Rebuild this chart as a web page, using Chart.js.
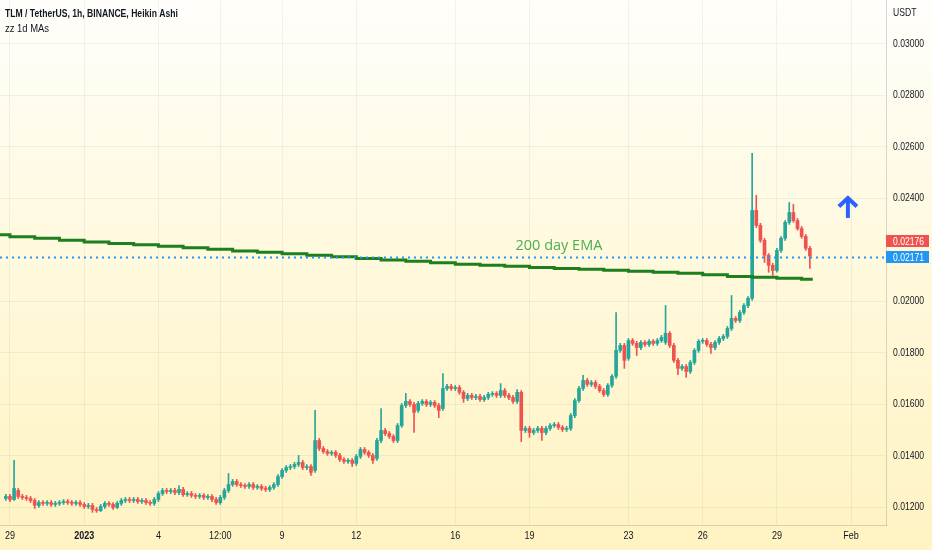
<!DOCTYPE html>
<html>
<head>
<meta charset="utf-8">
<title>TLM / TetherUS, 1h, BINANCE, Heikin Ashi</title>
<script src="https://cdn.jsdelivr.net/npm/chart.js@4.4.1/dist/chart.umd.min.js"></script>
<style>
  html, body { margin: 0; padding: 0; background: #fffdf3; }
  #wrap { position: relative; width: 932px; height: 550px; }
</style>
</head>
<body>
<div id="wrap"><canvas id="myChart"></canvas></div>
<script>
// days are counted from Jan 1 2023 00:00, candles are 4h Heikin Ashi
const firstCandle = -3.1667;
const candleStep = 1 / 6;

const opens = [
  0.01235, 0.01243, 0.01231, 0.01266, 0.01243, 0.01239, 0.01235, 0.01227, 0.01208, 0.01219,
  0.01216, 0.01219, 0.01212, 0.01216, 0.01219, 0.01223, 0.01219, 0.01216, 0.01219, 0.01212,
  0.01204, 0.01208, 0.01192, 0.01188, 0.01204, 0.01216, 0.01212, 0.01200, 0.01216, 0.01227,
  0.01231, 0.01227, 0.01231, 0.01223, 0.01227, 0.01219, 0.01216, 0.01231, 0.01254, 0.01266,
  0.01262, 0.01266, 0.01258, 0.01270, 0.01250, 0.01254, 0.01247, 0.01243, 0.01247, 0.01239,
  0.01243, 0.01231, 0.01219, 0.01239, 0.01266, 0.01289, 0.01301, 0.01289, 0.01285, 0.01282,
  0.01289, 0.01278, 0.01282, 0.01274, 0.01270, 0.01278, 0.01289, 0.01320, 0.01344, 0.01355,
  0.01359, 0.01367, 0.01375, 0.01355, 0.01359, 0.01344, 0.01460, 0.01429, 0.01417, 0.01410,
  0.01414, 0.01402, 0.01386, 0.01379, 0.01383, 0.01371, 0.01398, 0.01425, 0.01414, 0.01402,
  0.01390, 0.01460, 0.01499, 0.01487, 0.01476, 0.01460, 0.01518, 0.01596, 0.01612, 0.01600,
  0.01577, 0.01604, 0.01612, 0.01600, 0.01608, 0.01596, 0.01584, 0.01662, 0.01670, 0.01662,
  0.01666, 0.01647, 0.01623, 0.01635, 0.01627, 0.01631, 0.01619, 0.01627, 0.01639, 0.01643,
  0.01635, 0.01654, 0.01635, 0.01627, 0.01612, 0.01647, 0.01499, 0.01507, 0.01491, 0.01499,
  0.01507, 0.01491, 0.01507, 0.01518, 0.01522, 0.01511, 0.01503, 0.01507, 0.01557, 0.01615,
  0.01662, 0.01693, 0.01678, 0.01685, 0.01670, 0.01654, 0.01639, 0.01674, 0.01709, 0.01810,
  0.01829, 0.01779, 0.01848, 0.01837, 0.01821, 0.01841, 0.01833, 0.01845, 0.01837, 0.01848,
  0.01841, 0.01876, 0.01829, 0.01771, 0.01740, 0.01747, 0.01728, 0.01763, 0.01810, 0.01845,
  0.01848, 0.01833, 0.01821, 0.01841, 0.01856, 0.01864, 0.01895, 0.01934, 0.01926, 0.01957,
  0.01984, 0.02012, 0.02353, 0.02295, 0.02237, 0.02179, 0.02140, 0.02120, 0.02198, 0.02245,
  0.02307, 0.02345, 0.02314, 0.02283, 0.02252, 0.02206
];
const closes = [
  0.01243, 0.01231, 0.01274, 0.01243, 0.01239, 0.01235, 0.01227, 0.01208, 0.01219, 0.01216,
  0.01219, 0.01212, 0.01216, 0.01219, 0.01223, 0.01219, 0.01216, 0.01219, 0.01212, 0.01204,
  0.01208, 0.01192, 0.01188, 0.01204, 0.01216, 0.01212, 0.01200, 0.01216, 0.01227, 0.01231,
  0.01227, 0.01231, 0.01223, 0.01227, 0.01219, 0.01216, 0.01231, 0.01254, 0.01266, 0.01262,
  0.01266, 0.01258, 0.01270, 0.01250, 0.01254, 0.01247, 0.01243, 0.01247, 0.01239, 0.01243,
  0.01231, 0.01219, 0.01239, 0.01266, 0.01289, 0.01301, 0.01289, 0.01285, 0.01282, 0.01289,
  0.01278, 0.01282, 0.01274, 0.01270, 0.01278, 0.01289, 0.01320, 0.01344, 0.01355, 0.01359,
  0.01367, 0.01375, 0.01355, 0.01359, 0.01336, 0.01460, 0.01429, 0.01417, 0.01410, 0.01414,
  0.01402, 0.01386, 0.01379, 0.01383, 0.01371, 0.01398, 0.01425, 0.01414, 0.01402, 0.01383,
  0.01460, 0.01499, 0.01487, 0.01476, 0.01460, 0.01518, 0.01596, 0.01612, 0.01600, 0.01569,
  0.01604, 0.01612, 0.01600, 0.01608, 0.01596, 0.01577, 0.01662, 0.01670, 0.01662, 0.01666,
  0.01647, 0.01623, 0.01635, 0.01627, 0.01631, 0.01619, 0.01627, 0.01639, 0.01643, 0.01635,
  0.01654, 0.01635, 0.01627, 0.01612, 0.01647, 0.01499, 0.01507, 0.01491, 0.01499, 0.01507,
  0.01491, 0.01507, 0.01518, 0.01522, 0.01511, 0.01503, 0.01507, 0.01557, 0.01615, 0.01662,
  0.01693, 0.01678, 0.01685, 0.01670, 0.01654, 0.01639, 0.01674, 0.01709, 0.01810, 0.01829,
  0.01771, 0.01848, 0.01837, 0.01821, 0.01841, 0.01833, 0.01845, 0.01837, 0.01848, 0.01860,
  0.01876, 0.01829, 0.01771, 0.01740, 0.01747, 0.01728, 0.01763, 0.01810, 0.01845, 0.01848,
  0.01833, 0.01821, 0.01841, 0.01856, 0.01864, 0.01895, 0.01934, 0.01926, 0.01957, 0.01984,
  0.02012, 0.02353, 0.02295, 0.02237, 0.02179, 0.02140, 0.02120, 0.02198, 0.02245, 0.02307,
  0.02345, 0.02314, 0.02283, 0.02252, 0.02206, 0.02176
];
const highs = [
  0.01251, 0.01251, 0.01383, 0.01274, 0.01251, 0.01247, 0.01243, 0.01235, 0.01227, 0.01227,
  0.01227, 0.01227, 0.01224, 0.01227, 0.01231, 0.01231, 0.01227, 0.01227, 0.01227, 0.01219,
  0.01216, 0.01216, 0.01200, 0.01212, 0.01223, 0.01223, 0.01219, 0.01223, 0.01235, 0.01239,
  0.01239, 0.01239, 0.01239, 0.01235, 0.01235, 0.01227, 0.01239, 0.01262, 0.01274, 0.01274,
  0.01274, 0.01274, 0.01285, 0.01278, 0.01262, 0.01262, 0.01254, 0.01254, 0.01254, 0.01250,
  0.01250, 0.01239, 0.01247, 0.01274, 0.01332, 0.01309, 0.01309, 0.01297, 0.01293, 0.01297,
  0.01297, 0.01289, 0.01289, 0.01282, 0.01285, 0.01297, 0.01328, 0.01351, 0.01363, 0.01367,
  0.01375, 0.01402, 0.01383, 0.01367, 0.01367, 0.01577, 0.01468, 0.01437, 0.01425, 0.01421,
  0.01421, 0.01410, 0.01394, 0.01390, 0.01390, 0.01406, 0.01433, 0.01433, 0.01421, 0.01410,
  0.01468, 0.01584, 0.01507, 0.01495, 0.01483, 0.01526, 0.01604, 0.01643, 0.01619, 0.01608,
  0.01612, 0.01619, 0.01619, 0.01615, 0.01615, 0.01604, 0.01720, 0.01678, 0.01678, 0.01674,
  0.01674, 0.01654, 0.01643, 0.01643, 0.01639, 0.01639, 0.01635, 0.01647, 0.01650, 0.01650,
  0.01681, 0.01662, 0.01643, 0.01635, 0.01658, 0.01654, 0.01515, 0.01515, 0.01507, 0.01515,
  0.01515, 0.01515, 0.01526, 0.01530, 0.01530, 0.01518, 0.01515, 0.01565, 0.01623, 0.01670,
  0.01713, 0.01701, 0.01693, 0.01693, 0.01678, 0.01662, 0.01681, 0.01716, 0.01957, 0.01837,
  0.01837, 0.01856, 0.01856, 0.01845, 0.01848, 0.01848, 0.01852, 0.01852, 0.01856, 0.01868,
  0.01984, 0.01883, 0.01837, 0.01779, 0.01755, 0.01755, 0.01771, 0.01817, 0.01852, 0.01856,
  0.01856, 0.01841, 0.01848, 0.01864, 0.01872, 0.01903, 0.02023, 0.01941, 0.01965, 0.01992,
  0.02019, 0.02575, 0.02412, 0.02303, 0.02245, 0.02186, 0.02148, 0.02206, 0.02252, 0.02314,
  0.02384, 0.02377, 0.02322, 0.02291, 0.02260, 0.02214
];
const lows = [
  0.01227, 0.01223, 0.01227, 0.01235, 0.01231, 0.01227, 0.01219, 0.01196, 0.01200, 0.01208,
  0.01208, 0.01204, 0.01204, 0.01208, 0.01212, 0.01212, 0.01208, 0.01208, 0.01204, 0.01196,
  0.01196, 0.01181, 0.01181, 0.01184, 0.01196, 0.01204, 0.01192, 0.01196, 0.01208, 0.01219,
  0.01219, 0.01219, 0.01216, 0.01216, 0.01212, 0.01208, 0.01208, 0.01223, 0.01247, 0.01254,
  0.01254, 0.01250, 0.01250, 0.01243, 0.01243, 0.01239, 0.01235, 0.01235, 0.01231, 0.01231,
  0.01223, 0.01212, 0.01212, 0.01231, 0.01258, 0.01282, 0.01282, 0.01278, 0.01274, 0.01274,
  0.01270, 0.01270, 0.01266, 0.01262, 0.01262, 0.01270, 0.01282, 0.01313, 0.01336, 0.01347,
  0.01351, 0.01359, 0.01347, 0.01347, 0.01324, 0.01336, 0.01421, 0.01410, 0.01402, 0.01402,
  0.01394, 0.01379, 0.01371, 0.01371, 0.01359, 0.01363, 0.01390, 0.01406, 0.01394, 0.01371,
  0.01383, 0.01452, 0.01479, 0.01468, 0.01452, 0.01452, 0.01511, 0.01588, 0.01592, 0.01491,
  0.01569, 0.01596, 0.01592, 0.01592, 0.01588, 0.01549, 0.01577, 0.01654, 0.01654, 0.01654,
  0.01639, 0.01608, 0.01615, 0.01619, 0.01619, 0.01612, 0.01612, 0.01619, 0.01631, 0.01627,
  0.01627, 0.01627, 0.01619, 0.01604, 0.01604, 0.01456, 0.01491, 0.01472, 0.01483, 0.01491,
  0.01460, 0.01483, 0.01499, 0.01511, 0.01503, 0.01495, 0.01495, 0.01499, 0.01549, 0.01608,
  0.01654, 0.01670, 0.01670, 0.01662, 0.01647, 0.01631, 0.01631, 0.01666, 0.01701, 0.01802,
  0.01740, 0.01771, 0.01829, 0.01790, 0.01813, 0.01825, 0.01825, 0.01829, 0.01829, 0.01841,
  0.01833, 0.01821, 0.01763, 0.01716, 0.01732, 0.01705, 0.01720, 0.01755, 0.01802, 0.01837,
  0.01825, 0.01798, 0.01813, 0.01833, 0.01848, 0.01856, 0.01887, 0.01918, 0.01918, 0.01949,
  0.01976, 0.02004, 0.02287, 0.02229, 0.02151, 0.02113, 0.02101, 0.02113, 0.02190, 0.02237,
  0.02299, 0.02307, 0.02276, 0.02245, 0.02198, 0.02128
];

// 200 day EMA from the daily MA script, one value per day (stepped)
const emaDays = [-4, -3, -2, -1, 0, 1, 2, 3, 4, 5, 6, 7, 8, 9, 10, 11, 12, 13, 14, 15,
                 16, 17, 18, 19, 20, 21, 22, 23, 24, 25, 26, 27, 28, 29, 29.45];
const emaValues = [
  0.02259, 0.02251, 0.02245, 0.02237, 0.02231, 0.02225, 0.02220, 0.02214, 0.02208, 0.02202,
  0.02196, 0.02191, 0.02185, 0.02179, 0.02173, 0.02167, 0.02161, 0.02156, 0.02150, 0.02144,
  0.02140, 0.02136, 0.02132, 0.02128, 0.02125, 0.02121, 0.02117, 0.02113, 0.02109, 0.02103,
  0.02097, 0.02094, 0.02090, 0.02086, 0.02086
];

const tickDays = [-3, 0, 3, 5.5, 8, 11, 15, 18, 22, 25, 28, 31];
const tickLabels = ["29", "2023", "4", "12:00", "9", "12", "16", "19", "23", "26", "29", "Feb"];
const priceTicks = [0.012, 0.014, 0.016, 0.018, 0.020, 0.024, 0.026, 0.028, 0.030];

const lastPrice = 0.02176;
const linePrice = 0.02171;
const emaNote = { day: 19.19, price: 0.02215, text: "200 day EMA" };
const arrowMark = { day: 30.87, top: 0.02405, bottom: 0.02324 };

const upColor = "#26a69a";
const downColor = "#ef5350";
const textColor = "#131722";
const sansFont = "'Liberation Sans', Arial, sans-serif";

const candleTimes = opens.map((o, i) => firstCandle + i * candleStep);
const candleColors = opens.map((o, i) => closes[i] >= o ? upColor : downColor);

// TradingView's labels are narrow, squeeze the text a little
function narrowText(ctx, text, x, y, align) {
    ctx.save();
    ctx.translate(x, y);
    ctx.scale(0.82, 1);
    ctx.textAlign = align;
    ctx.textBaseline = "middle";
    ctx.fillText(text, 0, 0);
    ctx.restore();
}

const backdrop = {
    id: "backdrop",
    beforeDraw(chart) {
        const { ctx, width, height } = chart;
        const g = ctx.createLinearGradient(0, 0, 0, height);
        g.addColorStop(0, "#fffefb");
        g.addColorStop(0.45, "#fff9de");
        g.addColorStop(1, "#fff3c2");
        ctx.save();
        ctx.fillStyle = g;
        ctx.fillRect(0, 0, width, height);
        ctx.restore();
    }
};

const overlay = {
    id: "overlay",
    afterDatasetsDraw(chart) {
        const { ctx, chartArea } = chart;
        const x = chart.scales.x, y = chart.scales.y;

        // dotted price line
        const ly = Math.round(y.getPixelForValue(linePrice)) + 0.5;
        ctx.save();
        ctx.strokeStyle = "#2196f3";
        ctx.lineWidth = 2;
        ctx.setLineDash([2, 4]);
        ctx.beginPath();
        ctx.moveTo(chartArea.left, ly);
        ctx.lineTo(chartArea.right, ly);
        ctx.stroke();
        ctx.restore();

        // label on the EMA
        ctx.save();
        ctx.fillStyle = "#4caf50";
        ctx.font = "14.5px 'Open Sans', 'Noto Sans', sans-serif";
        ctx.textAlign = "center";
        ctx.textBaseline = "middle";
        ctx.fillText(emaNote.text, x.getPixelForValue(emaNote.day), y.getPixelForValue(emaNote.price));
        ctx.restore();

        // blue up arrow
        const ax = x.getPixelForValue(arrowMark.day);
        const at = y.getPixelForValue(arrowMark.top);
        const ab = y.getPixelForValue(arrowMark.bottom);
        ctx.save();
        ctx.strokeStyle = "#2962ff";
        ctx.lineWidth = 4;
        ctx.beginPath();
        ctx.moveTo(ax, ab);
        ctx.lineTo(ax, at + 2);
        ctx.stroke();
        ctx.beginPath();
        ctx.moveTo(ax - 9, at + 9.5);
        ctx.lineTo(ax, at + 1);
        ctx.lineTo(ax + 9, at + 9.5);
        ctx.stroke();
        ctx.restore();
    },
    afterDraw(chart) {
        const { ctx, chartArea } = chart;
        const x = chart.scales.x, y = chart.scales.y;
        ctx.save();
        ctx.fillStyle = textColor;

        // axis labels
        ctx.font = "10.5px " + sansFont;
        priceTicks.forEach(v => narrowText(ctx, v.toFixed(5), chartArea.right + 7, y.getPixelForValue(v), "left"));
        tickDays.forEach((d, i) => {
            ctx.font = (i === 1 ? "bold " : "") + "11px " + sansFont;
            narrowText(ctx, tickLabels[i], x.getPixelForValue(d), chartArea.bottom + 11, "center");
        });

        // price tags on the axis
        const by = y.getPixelForValue(linePrice);
        const tags = [
            { v: lastPrice, c: downColor, cy: by - 16 },
            { v: linePrice, c: "#2196f3", cy: by }
        ];
        ctx.font = "10.5px " + sansFont;
        tags.forEach(t => {
            ctx.fillStyle = t.c;
            ctx.fillRect(chartArea.right, Math.round(t.cy - 6), 43, 12);
            ctx.fillStyle = "#ffffff";
            narrowText(ctx, t.v.toFixed(5), chartArea.right + 7, t.cy + 0.5, "left");
        });

        // headings
        ctx.fillStyle = textColor;
        ctx.font = "10.5px " + sansFont;
        narrowText(ctx, "USDT", chartArea.right + 7, 13, "left");
        ctx.font = "bold 10.5px " + sansFont;
        narrowText(ctx, "TLM / TetherUS, 1h, BINANCE, Heikin Ashi", 5, 14.5, "left");
        ctx.font = "11.5px " + sansFont;
        narrowText(ctx, "zz 1d MAs", 5, 29, "left");
        ctx.restore();
    }
};

new Chart("myChart", {
    type: "bar",
    data: {
        datasets: [{
            type: "line",
            label: "200 day EMA",
            data: emaDays.map((d, i) => ({ x: d, y: emaValues[i] })),
            borderColor: "#1d7f1d",
            borderWidth: 3,
            stepped: true,
            pointRadius: 0,
            order: 0
        }, {
            label: "body",
            data: opens.map((o, i) => ({ x: candleTimes[i], y: [o, closes[i]] })),
            backgroundColor: candleColors,
            barThickness: 3,
            minBarLength: 1,
            grouped: false,
            order: 1
        }, {
            label: "wick",
            data: lows.map((l, i) => ({ x: candleTimes[i], y: [l, highs[i]] })),
            backgroundColor: candleColors,
            barThickness: 1,
            grouped: false,
            order: 2
        }]
    },
    options: {
        responsive: true,
        maintainAspectRatio: false,
        animation: false,
        layout: { padding: 0 },
        plugins: {
            legend: { display: false },
            tooltip: { enabled: false },
            title: { display: false }
        },
        scales: {
            x: {
                type: "linear",
                min: -3.403,
                max: 32.41,
                offset: false,
                afterBuildTicks: s => { s.ticks = tickDays.map(v => ({ value: v })); },
                afterFit: s => { s.height = 25; s.paddingLeft = 0; s.paddingRight = 0; },
                ticks: { display: false },
                grid: { color: "rgba(42,46,57,0.06)", drawTicks: false, offset: false },
                border: { color: "rgba(42,46,57,0.18)" }
            },
            y: {
                position: "right",
                min: 0.01132,
                max: 0.03170,
                afterBuildTicks: s => { s.ticks = priceTicks.map(v => ({ value: v })); },
                afterFit: s => { s.width = 46; s.paddingTop = 0; s.paddingBottom = 0; },
                ticks: { display: false },
                grid: { color: "rgba(42,46,57,0.06)", drawTicks: false },
                border: { color: "rgba(42,46,57,0.18)" }
            }
        }
    },
    plugins: [backdrop, overlay]
});
</script>
</body>
</html>
